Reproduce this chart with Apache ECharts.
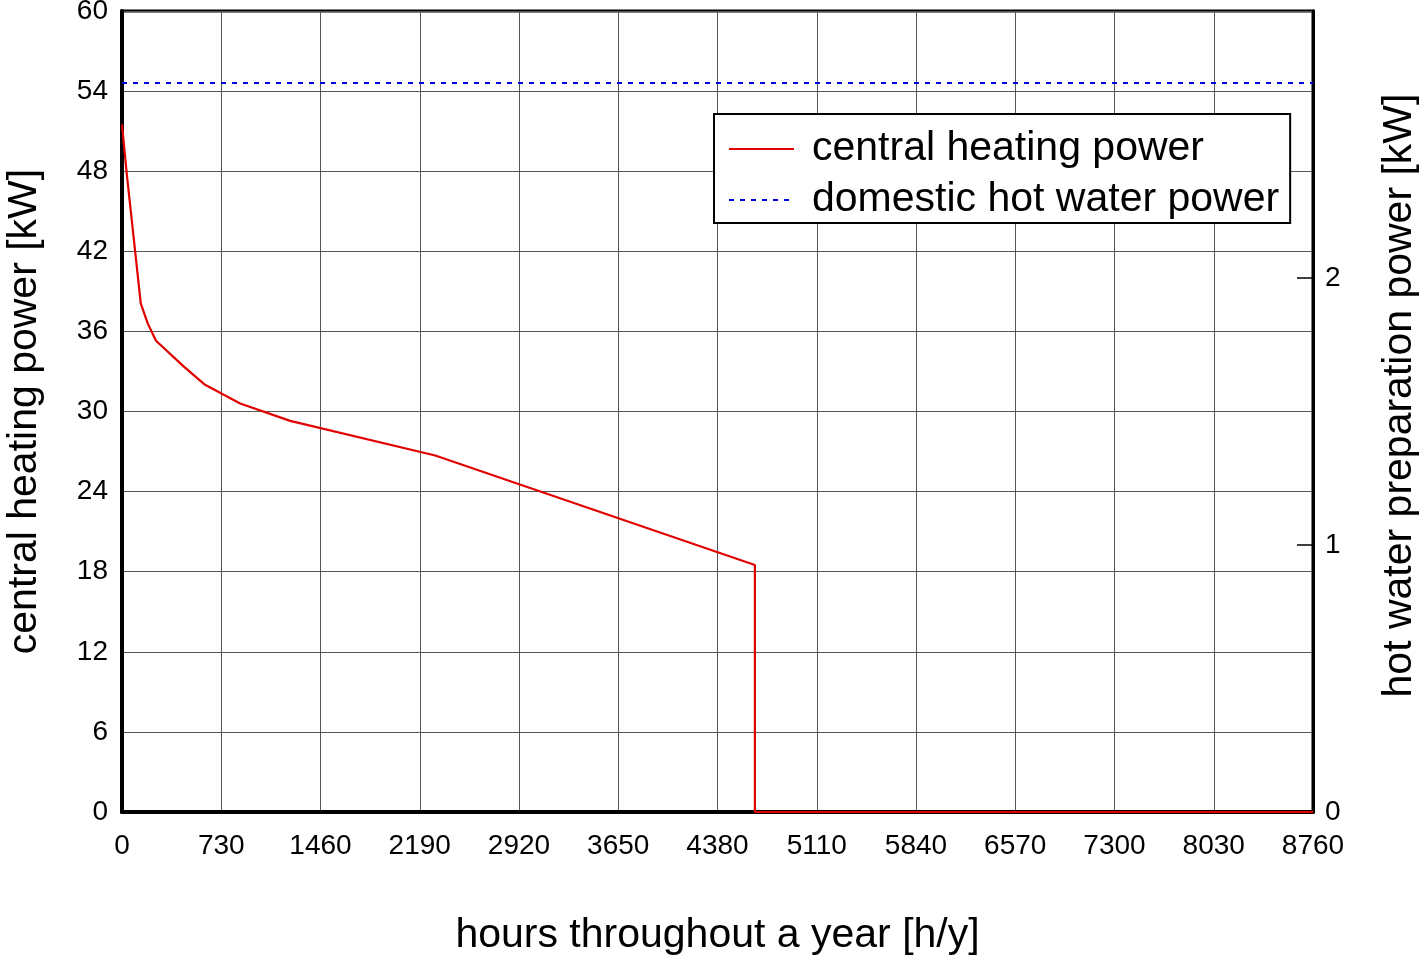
<!DOCTYPE html>
<html>
<head>
<meta charset="utf-8">
<script src="https://cdn.jsdelivr.net/npm/echarts@6/dist/echarts.min.js"></script>
<style>html,body{margin:0;padding:0;background:#fff}#c{width:1422px;height:959px}</style>
</head>
<body>
<div id="c"></div>
<script>
const hours = [0, 35, 138, 189, 250, 451, 611, 869, 1237, 2304, 4655, 4655, 8760];
const heatingPower = [51.5, 47.8, 38.1, 36.6, 35.3, 33.4, 32.0, 30.6, 29.3, 26.7, 18.5, 0, 0];
const hwHours = [0, 8760];
const hwPower = [2.73, 2.73];
const xTicks = [0, 730, 1460, 2190, 2920, 3650, 4380, 5110, 5840, 6570, 7300, 8030, 8760];
const seriesNames = ['central heating power', 'domestic hot water power'];

const FONT = 'Liberation Sans, Arial, sans-serif';
const chart = echarts.init(document.getElementById('c'));
chart.setOption({
  animation: false,
  backgroundColor: '#fff',
  grid: { left: 122, right: 109, top: 11, bottom: 147, containLabel: false, outerBoundsMode: 'none', show: true, borderColor: '#000', borderWidth: 3, backgroundColor: 'transparent' },
  legend: {
    orient: 'vertical', left: 714, top: 114,
    padding: [14, 11, 2, 14], itemGap: 9,
    itemWidth: 65, itemHeight: 14,
    borderColor: '#000', borderWidth: 2, backgroundColor: '#fff',
    itemStyle: { opacity: 0 },
    textStyle: { fontFamily: FONT, fontSize: 41, color: '#000', lineHeight: 42, padding: [0, 0, 0, 13] },
    data: seriesNames
  },
  xAxis: {
    type: 'value', min: 0, max: 8760, interval: 730,
    name: 'hours throughout a year [h/y]', nameLocation: 'middle', nameGap: 103,
    nameTextStyle: { fontFamily: FONT, fontSize: 41, color: '#000' },
    axisLine: { show: true, lineStyle: { color: '#000', width: 4 } },
    axisTick: { show: false },
    axisLabel: { fontFamily: FONT, fontSize: 28, color: '#000', margin: 20, formatter: v => String(v) },
    splitLine: { show: true, lineStyle: { color: '#555', width: 1 } }
  },
  yAxis: [{
    type: 'value', min: 0, max: 60, interval: 6,
    name: 'central heating power [kW]', nameLocation: 'middle', nameGap: 77, nameRotate: 90,
    nameTextStyle: { fontFamily: FONT, fontSize: 41, color: '#000' },
    axisLine: { show: true, lineStyle: { color: '#000', width: 4 } },
    axisTick: { show: false },
    axisLabel: { fontFamily: FONT, fontSize: 28, color: '#000', margin: 14, padding: [6, 0, 0, 0] },
    splitLine: { show: true, lineStyle: { color: '#555', width: 1 } }
  }, {
    type: 'value', min: 0, max: 3, interval: 1, position: 'right',
    name: 'hot water preparation power [kW]', nameLocation: 'middle', nameGap: 66, nameRotate: 90,
    nameTextStyle: { fontFamily: FONT, fontSize: 41, color: '#000', padding: [0, 0, 0, 32] },
    axisLine: { show: true, lineStyle: { color: '#000', width: 3 } },
    axisTick: { show: true, inside: true, length: 16, lineStyle: { color: '#000', width: 1.5 } },
    axisLabel: { fontFamily: FONT, fontSize: 28, color: '#000', margin: 12, showMaxLabel: false, padding: [6, 0, 0, 0] },
    splitLine: { show: false }
  }],
  series: [{
    name: seriesNames[0], type: 'line', yAxisIndex: 0, symbol: 'none',
    lineStyle: { color: '#e00000', width: 2.2 }, itemStyle: { color: '#e00000' },
    data: hours.map((h, i) => [h, heatingPower[i]]), z: 5
  }, {
    name: seriesNames[1], type: 'line', yAxisIndex: 1, symbol: 'none',
    lineStyle: { color: '#0000dd', width: 2, type: [5, 6] }, itemStyle: { color: '#0000dd' },
    data: hwHours.map((h, i) => [h, hwPower[i]]), z: 5
  }]
});
</script>
</body>
</html>
